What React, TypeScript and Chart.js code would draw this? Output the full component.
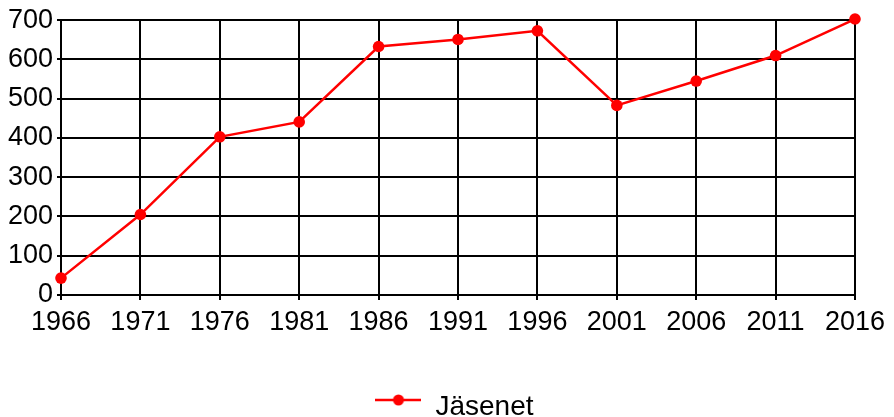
import React, { useEffect, useRef } from "react";
import { Chart, registerables } from "chart.js";

Chart.register(...registerables);

const categories = ["1966", "1971", "1976", "1981", "1986", "1991", "1996", "2001", "2006", "2011", "2016"];
const jasenet = [43, 205, 403, 441, 633, 651, 673, 483, 545, 610, 703];
const seriesLabel = "Jäsenet";
const yTicks = [0, 100, 200, 300, 400, 500, 600, 700];

function makeLegendIcon(): HTMLCanvasElement {
  const c = document.createElement("canvas");
  c.width = 46;
  c.height = 26;
  const ctx = c.getContext("2d")!;
  ctx.strokeStyle = "#ff0000";
  ctx.lineWidth = 2.5;
  ctx.beginPath();
  ctx.moveTo(0, 6);
  ctx.lineTo(46, 6);
  ctx.stroke();
  ctx.fillStyle = "#ff0000";
  ctx.beginPath();
  ctx.arc(23, 6, 5.5, 0, Math.PI * 2);
  ctx.fill();
  return c;
}

const legendShift = {
  id: "legendShift",
  afterLayout(chart: any) {
    const lg = chart.legend;
    if (lg) {
      lg.left += 27;
      lg.right += 27;
      if (lg.legendHitBoxes) {
        lg.legendHitBoxes.forEach((h: any) => {
          h.left += 27;
        });
      }
    }
  },
};

export default function App() {
  const ref = useRef<HTMLCanvasElement>(null);
  useEffect(() => {
    document.body.style.margin = "0";
    const canvas = ref.current!;
    const family = "'Liberation Sans', Arial, sans-serif";
    const font = { family, size: 27 };
    const chart = new Chart(canvas, {
      type: "line",
      data: {
        labels: categories,
        datasets: [
          {
            label: seriesLabel,
            data: jasenet,
            borderColor: "#ff0000",
            backgroundColor: "#ff0000",
            borderWidth: 2.5,
            pointRadius: 5.8,
            pointBackgroundColor: "#ff0000",
            pointBorderWidth: 0,
            tension: 0,
            clip: false,
          },
        ],
      },
      options: {
        responsive: false,
        animation: false,
        layout: { padding: { left: 0, right: 39, top: 17, bottom: -14 } },
        plugins: {
          tooltip: { enabled: false },
          legend: {
            position: "bottom",
            labels: {
              font: { family, size: 28 },
              color: "#000",
              padding: 10,
              usePointStyle: true,
              pointStyle: makeLegendIcon(),
              pointStyleWidth: 46,
            },
          },
        },
        scales: {
          x: {
            type: "category",
            offset: false,
            grid: { color: "#000", lineWidth: 2, tickLength: 5, drawTicks: true },
            border: { color: "#000", width: 2 },
            ticks: { font, color: "#000", padding: 6, maxRotation: 0, autoSkip: false },
            afterFit: (s: any) => {
              s.height = 88;
            },
          },
          y: {
            min: 0,
            max: 700,
            afterBuildTicks: (s: any) => {
              s.ticks = yTicks.map((v) => ({ value: v }));
            },
            grid: { color: "#000", lineWidth: 2, tickLength: 4 },
            border: { color: "#000", width: 2 },
            ticks: { font, color: "#000", padding: 4 },
            afterFit: (s: any) => {
              s.width = 61;
            },
          },
        },
      },
      plugins: [legendShift],
    });
    return () => chart.destroy();
  }, []);
  return (
    <div style={{ position: "absolute", left: 0, top: 0, width: 894, height: 417, overflow: "hidden" }}>
      <canvas ref={ref} width={894} height={417} />
    </div>
  );
}
